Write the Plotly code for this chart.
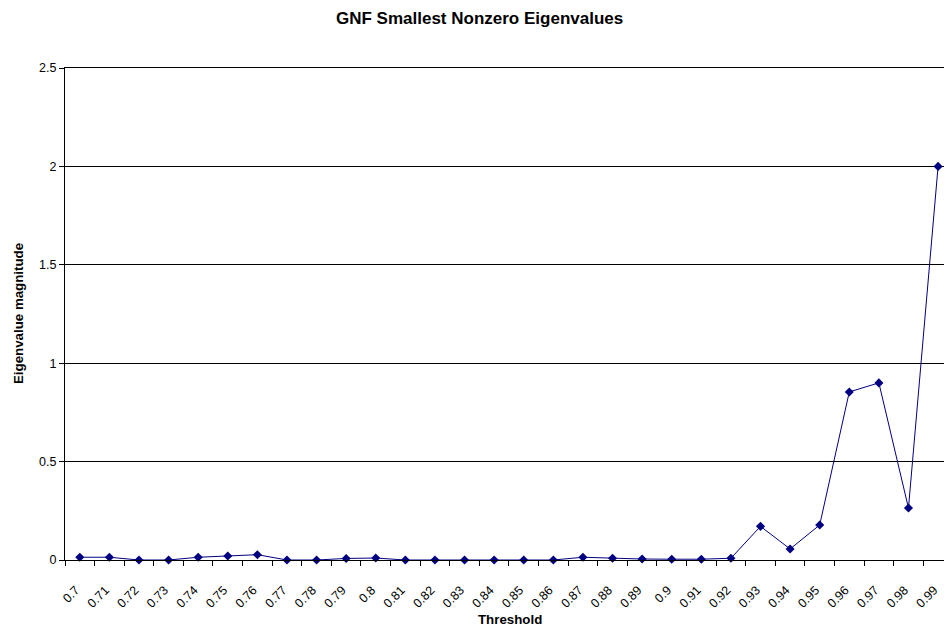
import plotly.graph_objects as go

thresholds = ["0.7", "0.71", "0.72", "0.73", "0.74", "0.75", "0.76", "0.77", "0.78", "0.79",
              "0.8", "0.81", "0.82", "0.83", "0.84", "0.85", "0.86", "0.87", "0.88", "0.89",
              "0.9", "0.91", "0.92", "0.93", "0.94", "0.95", "0.96", "0.97", "0.98", "0.99"]
eigenvalues = [0.014, 0.014, 0.0, 0.0, 0.014, 0.02, 0.027, 0.0, 0.0, 0.008,
               0.01, 0.0, 0.0, 0.0, 0.0, 0.0, 0.0, 0.014, 0.009, 0.005,
               0.004, 0.004, 0.009, 0.171, 0.056, 0.178, 0.854, 0.90, 0.264, 2.0]
y_ticks = [0, 0.5, 1, 1.5, 2, 2.5]
y_tick_text = ["0", "0.5", "1", "1.5", "2", "2.5"]

FONT = "Liberation Sans, Arial, sans-serif"

fig = go.Figure()
fig.add_trace(go.Scatter(
    x=thresholds, y=eigenvalues, mode="lines+markers",
    line=dict(color="#000080", width=1),
    marker=dict(symbol="diamond", size=7, color="#000080"),
    showlegend=False, cliponaxis=False,
))

fig.update_layout(
    width=944, height=631,
    margin=dict(l=65, r=0, t=68, b=71),
    paper_bgcolor="white", plot_bgcolor="white",
    font=dict(family=FONT, size=12, color="black"),
    xaxis=dict(
        type="category", range=[-0.5, 29.2], automargin=False,
        tickangle=-45, tickson="boundaries",
        ticks="outside", ticklen=5, tickcolor="black",
        ticklabelstandoff=17, ticklabelshift=-4,
        showline=True, linecolor="black", linewidth=1, mirror=True,
        showgrid=False, zeroline=False,
        tickfont=dict(family=FONT, size=12.5, color="black"),
    ),
    yaxis=dict(
        range=[0, 2.5], tickvals=y_ticks, ticktext=y_tick_text, automargin=False,
        ticks="outside", ticklen=5, tickcolor="black",
        showline=True, linecolor="black", linewidth=1,
        showgrid=True, gridcolor="black", gridwidth=1,
        zeroline=False,
        tickfont=dict(family=FONT, size=12.5, color="black"),
    ),
    annotations=[
        dict(text="<b>GNF Smallest Nonzero Eigenvalues</b>", xref="paper", yref="paper",
             x=(479 - 65) / 879, y=1 + (68 - 18) / 492, xanchor="center", yanchor="middle",
             showarrow=False, font=dict(family=FONT, size=17, color="black")),
        dict(text="<b>Threshold</b>", xref="paper", yref="paper",
             x=(510 - 65) / 879, y=-(619 - 560) / 492, xanchor="center", yanchor="middle",
             showarrow=False, font=dict(family=FONT, size=13.3, color="black")),
        dict(text="<b>Eigenvalue magnitude</b>", xref="paper", yref="paper",
             x=-(65 - 18) / 879, y=0.5, xanchor="center", yanchor="middle", textangle=-90,
             showarrow=False, font=dict(family=FONT, size=13.3, color="black")),
    ],
)

fig.write_html(
    "out.html",
    config={"displayModeBar": False},
    post_script="document.body.style.margin='0px';document.body.style.overflow='hidden';",
)
